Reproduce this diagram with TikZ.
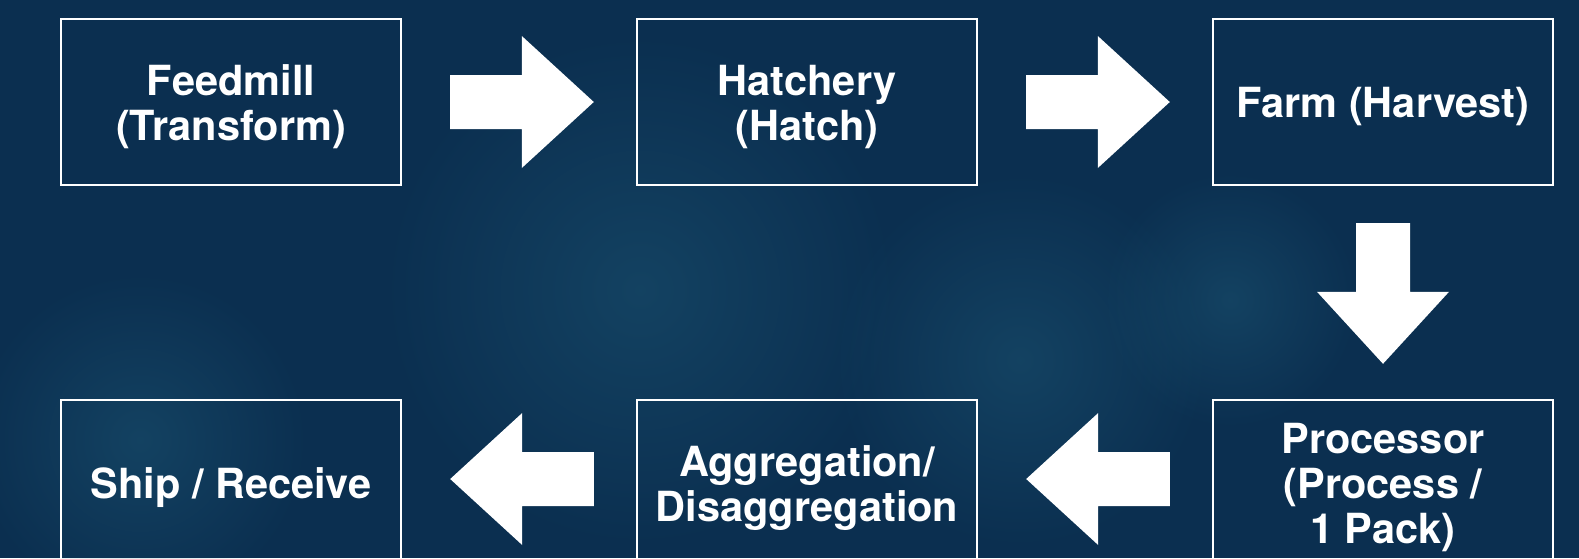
\documentclass[tikz,border=0pt]{standalone}
\usepackage{fontspec}
\setmainfont{TeX Gyre Heros}
\usetikzlibrary{calc,fadings}
\definecolor{seanavy}{RGB}{11,47,80}
\definecolor{seateal}{RGB}{30,90,120}
\tikzfading[name=patchfade, inner color=transparent!0, outer color=transparent!100]

% block arrow from #1 (tail) to #2 (tip)
\newcommand{\bigarrow}[2]{%
  \coordinate (hb) at ($(#2)!72pt!(#1)$);
  \fill[white] ($(#1)!27pt!90:(#2)$) -- ($(hb)!27pt!90:(#2)$) -- ($(hb)!66pt!90:(#2)$)
    -- (#2) -- ($(hb)!66pt!-90:(#2)$) -- ($(hb)!27pt!-90:(#2)$) -- ($(#1)!27pt!-90:(#2)$) -- cycle;
}

\begin{document}
\begin{tikzpicture}[x=1pt,y=-1pt,
  stage/.style={minimum width=340pt, minimum height=166pt, inner sep=0pt, align=center,
    text=white, font=\fontsize{41.5}{45}\selectfont\bfseries},
  frame/.style={draw=white, line width=2pt},
  patch/.style={fill=seateal, path fading=patchfade, fill opacity=0.45}]

\fill[seanavy] (0,0) rectangle (1579,558); % the background
\clip (0,0) rectangle (1579,558);
% soft lighter patches of the water
\fill[patch] (640,290) circle (260);
\fill[patch] (1020,360) circle (190);
\fill[patch] (140,440) circle (170);
\fill[patch] (1230,300) circle (130);

% top row
\node[stage] (feed)  at (231,107)  {Feedmill\\(Transform)};
\node[stage] (hatch) at (807,107)  {Hatchery\\(Hatch)};
\node[stage] (farm)  at (1383,107) {Farm (Harvest)};

% bottom row, cut by the lower edge
\node[stage] (ship) at (231,488)  {Ship / Receive};
\node[stage] (agg)  at (807,488)  {Aggregation/\\Disaggregation};
\node[stage] (proc) at (1383,488) {Processor\\(Process /\\1 Pack)};

% frames sit a little higher than the text
\foreach \n in {feed,hatch,farm,ship,agg,proc}
  \draw[frame] ([yshift=5pt]\n.south west) rectangle ([yshift=5pt]\n.north east);

% ends of the big white arrows
\coordinate (t1) at ([xshift=49pt,yshift=5pt]feed.east);   \coordinate (h1) at ([xshift=-43pt,yshift=5pt]hatch.west);
\coordinate (t2) at ([xshift=49pt,yshift=5pt]hatch.east);  \coordinate (h2) at ([xshift=-43pt,yshift=5pt]farm.west);
\coordinate (t3) at ([yshift=-33pt]farm.south); \coordinate (h3) at ([yshift=41pt]proc.north);
\coordinate (t4) at ([xshift=-43pt,yshift=9pt]proc.west); \coordinate (h4) at ([xshift=49pt,yshift=9pt]agg.east);
\coordinate (t5) at ([xshift=-43pt,yshift=9pt]agg.west);  \coordinate (h5) at ([xshift=49pt,yshift=9pt]ship.east);

\bigarrow{t1}{h1}
\bigarrow{t2}{h2}
\bigarrow{t3}{h3}
\bigarrow{t4}{h4}
\bigarrow{t5}{h5}

\end{tikzpicture}
\end{document}
